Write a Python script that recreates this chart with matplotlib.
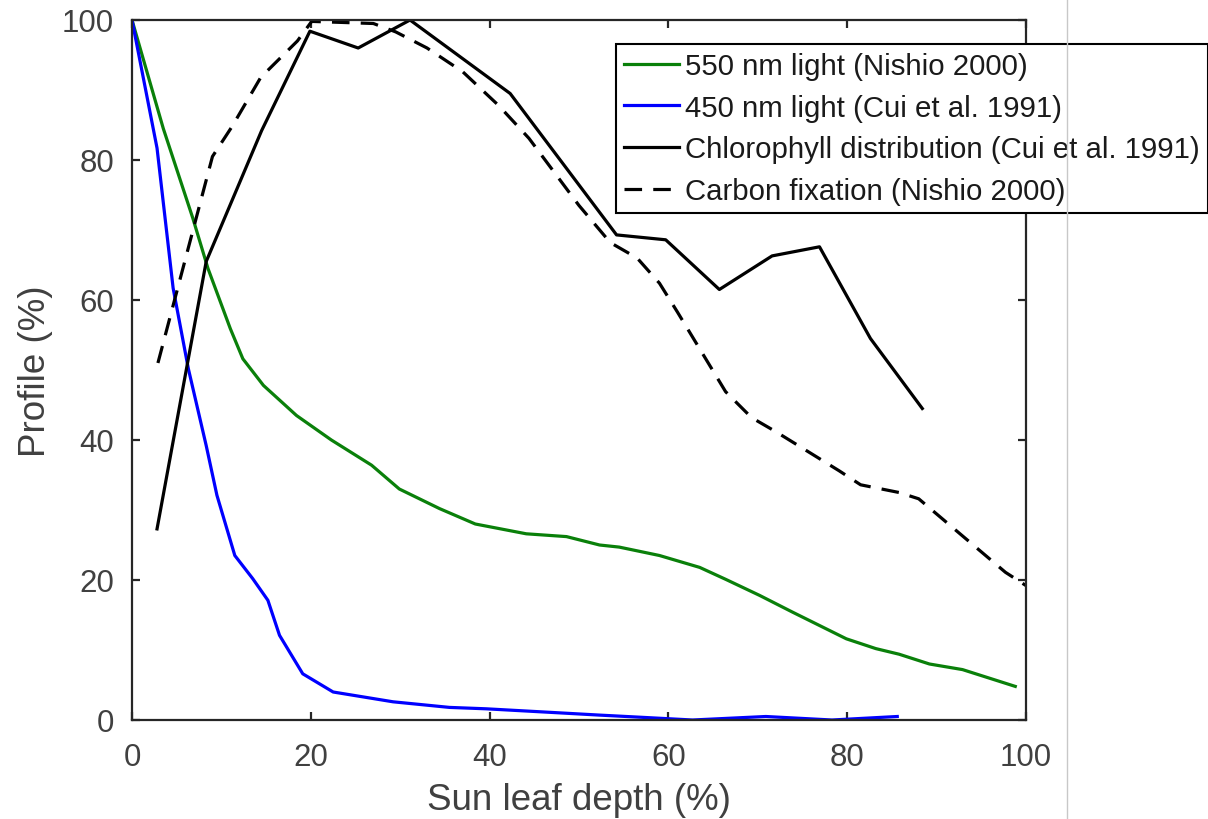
import matplotlib
matplotlib.use("Agg")
import matplotlib.pyplot as plt
from matplotlib.lines import Line2D

plt.rcParams['font.family'] = ['Liberation Sans', 'DejaVu Sans']

# ---- data ----
green_x = [0, 3.5, 6.8, 8.5, 11, 12.4, 14.7, 18.4, 22.3, 26.8, 29.9, 34.4, 38.4, 44.1,
           48.6, 52.3, 54.5, 59, 63.5, 66.4, 70.2, 73.9, 76.9, 79.9, 83.2, 85.8, 89.2, 92.9, 98.8]
green_y = [100, 84.5, 71.7, 64.5, 55.9, 51.6, 47.8, 43.5, 40, 36.4, 33, 30.2, 28, 26.6,
           26.2, 25, 24.7, 23.5, 21.8, 20.1, 17.8, 15.4, 13.5, 11.6, 10.2, 9.4, 8, 7.2, 4.8]

blue_x = [0, 2.8, 4.6, 6.3, 8.3, 9.5, 11.5, 13.5, 15.2, 16.5, 19.1, 22.5, 29.2, 35.5,
          39.6, 46.7, 52.3, 56.8, 62.7, 70.9, 78.3, 85.6]
blue_y = [100, 81.7, 61.7, 50.2, 39.2, 32.1, 23.5, 20.2, 17.1, 12.1, 6.6, 4, 2.6, 1.8,
          1.6, 1.1, 0.7, 0.4, 0, 0.5, 0, 0.5]

chl_x = [2.8, 8.3, 14.5, 19.9, 25.3, 31.1, 42.3, 54.2, 59.7, 65.7, 71.6, 76.9, 82.6, 88.4]
chl_y = [27.3, 65.5, 84.2, 98.4, 96, 100, 89.5, 69.3, 68.6, 61.5, 66.3, 67.6, 54.5, 44.5]

carb_x = [2.9, 9, 11.2, 14.4, 18.5, 20.1, 27, 29.5, 33, 37, 41, 44.4, 50, 53.5, 56.5,
          59, 61, 66.4, 69.3, 72, 79.1, 81.5, 85.8, 88, 97.7, 100]
carb_y = [51, 80.5, 84.8, 91.8, 97, 99.8, 99.5, 98.3, 96, 92.6, 87.8, 83.1, 73.5, 68.2, 66,
          62.4, 58.3, 46.9, 43.2, 41.2, 35.6, 33.6, 32.5, 31.6, 21.1, 19.2]

labels = ["550 nm light (Nishio 2000)", "450 nm light (Cui et al. 1991)",
          "Chlorophyll distribution (Cui et al. 1991)", "Carbon fixation (Nishio 2000)"]
ticks = [0, 20, 40, 60, 80, 100]

# ---- figure ----
W, H = 1208, 820
fig = plt.figure(figsize=(W / 100, H / 100), dpi=100)
ax = fig.add_axes([132 / W, 1 - 721 / H, (1026 - 132) / W, (721 - 21) / H])

lw = 2.3
ax.plot(green_x, green_y, color='#0a800a', lw=lw, label=labels[0])
ax.plot(blue_x, blue_y, color='#0000ff', lw=lw, label=labels[1])
ax.plot(chl_x, chl_y, color='black', lw=lw, label=labels[2])
ln, = ax.plot(carb_x, carb_y, color='black', lw=lw, label=labels[3])
ln.set_dashes([5.5, 3.5])

ax.set_xlim(0, 100)
ax.set_ylim(0, 100)
ax.set_xticks(ticks)
ax.set_yticks(ticks)

txtc = '#404040'
for s in ax.spines.values():
    s.set_color('#262626')
    s.set_linewidth(1.6)
ax.tick_params(direction='in', length=6, width=1.6, top=True, right=True,
               labelsize=22.5, labelcolor=txtc, color='#262626')
ax.tick_params(axis='x', pad=16)
ax.tick_params(axis='y', pad=13)

ax.set_xlabel("Sun leaf depth (%)", fontsize=26.5, color=txtc, labelpad=7)
ax.set_ylabel("Profile (%)", fontsize=26.5, color=txtc, labelpad=6)

leg = ax.legend(loc='upper left', bbox_to_anchor=(616 / W, 1 - 45 / H),
                bbox_transform=fig.transFigure, fontsize=21.2, frameon=True,
                fancybox=False, framealpha=1, edgecolor='black',
                handlelength=1.85, handletextpad=0.22, borderpad=0.28,
                labelspacing=0.46, borderaxespad=0)
leg.get_frame().set_linewidth(1.5)
for t in leg.get_texts():
    t.set_color('#1a1a1a')

fig.add_artist(Line2D([1067 / W, 1067 / W], [0, 1], color='#c8c8c8', lw=1,
                      transform=fig.transFigure))

fig.savefig("out.png", dpi=100)
